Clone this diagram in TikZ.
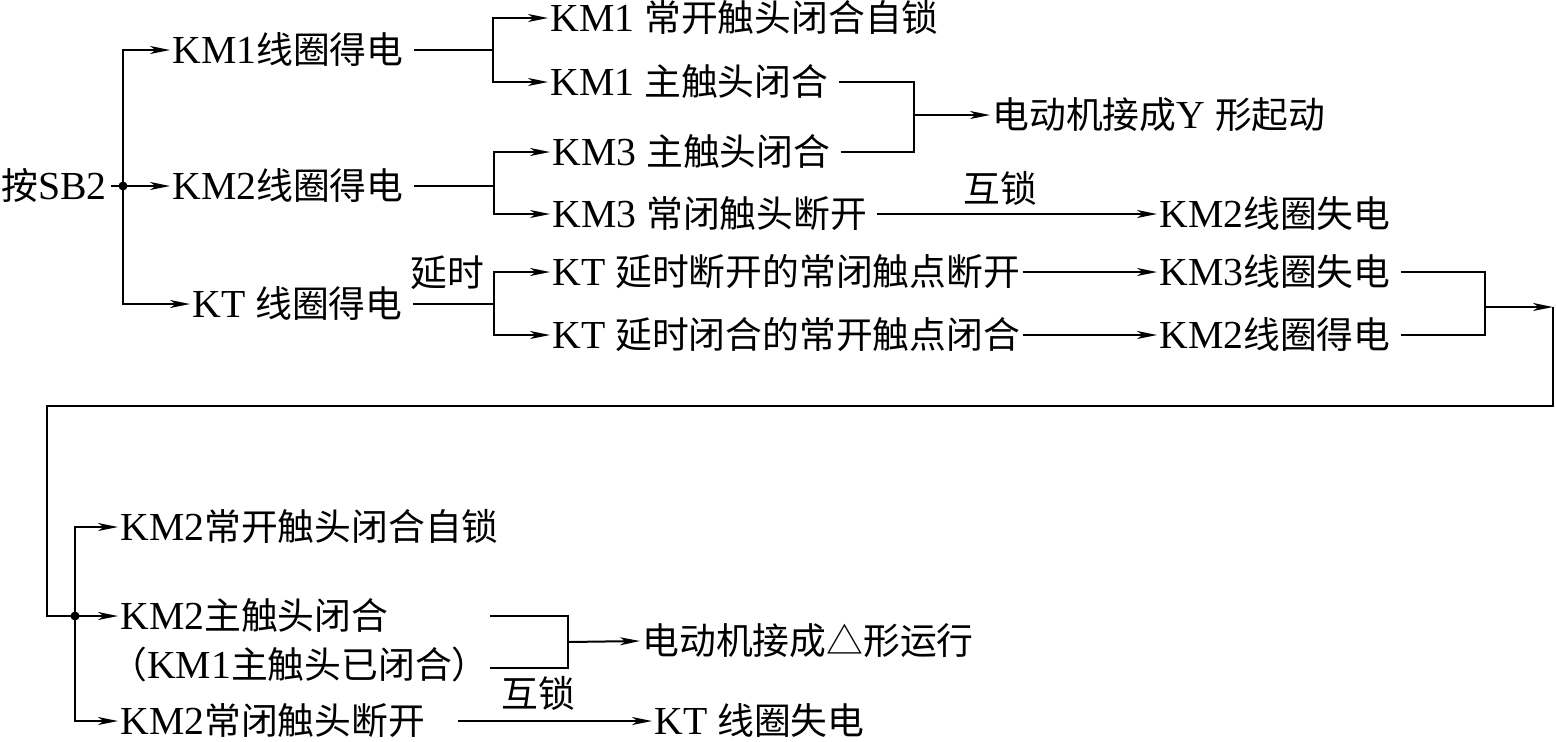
\documentclass[tikz,border=0pt]{standalone}
\usepackage{fontspec}
\setmainfont{Liberation Serif}[Scale=1.08]
\newfontfamily\cjk{Noto Sans CJK SC}
\usetikzlibrary{arrows.meta}
\newcommand\zh[1]{{\cjk #1}}
\begin{document}
\begin{tikzpicture}[x=0.5pt,y=-0.5pt,
 txt/.style={anchor=west,inner xsep=1pt,inner ysep=0pt,font=\fontsize{18.4}{22}\selectfont,text height=15pt,text depth=2pt},
 lbl/.style={inner sep=0pt,font=\fontsize{18.4}{22}\selectfont\cjk},
 ln/.style={line width=1pt},
 arr/.style={ln,-{Stealth[length=10pt,width=4pt,inset=2.8pt]}},
 from/.style={shorten <=4pt},
 jdot/.style={circle,fill,inner sep=0pt,minimum size=4.5pt}]
\useasboundingbox (0,0) rectangle (1556,741);
% nodes
\node[txt] (sb2) at (-1,186) {\zh{按}SB2};
\node[jdot] (dotA) at (123,186) {};
\node[txt] (k1) at (170,50) {KM1\zh{线圈得电}};
\node[txt] (k2) at (170,186) {KM2\zh{线圈得电}};
\node[txt] (kt) at (190,304) {KT \zh{线圈得电}};
\node[txt] (a1) at (548,18) {KM1 \zh{常开触头闭合自锁}};
\node[txt] (a2) at (548,82) {KM1 \zh{主触头闭合}};
\node[txt] (b1) at (550,152) {KM3 \zh{主触头闭合}};
\node[txt] (b2) at (550,214) {KM3 \zh{常闭触头断开}};
\node[txt] (ystart) at (990,115) {\zh{电动机接成}Y \zh{形起动}};
\node[txt] (k2off) at (1157,214) {KM2\zh{线圈失电}};
\node[txt] (c1) at (550,272) {KT \zh{延时断开的常闭触点断开}};
\node[txt] (c2) at (550,335) {KT \zh{延时闭合的常开触点闭合}};
\node[txt] (k3off) at (1157,272) {KM3\zh{线圈失电}};
\node[txt] (k2on) at (1157,335) {KM2\zh{线圈得电}};
\node[jdot] (dotB) at (75,616) {};
\node[txt] (e1) at (118,527) {KM2\zh{常开触头闭合自锁}};
\node[txt] (e2) at (118,616) {KM2\zh{主触头闭合}};
\node[txt] (e3) at (108,665) {\zh{（}KM1\zh{主触头已闭合）}};
\node[txt] (e4) at (118,721) {KM2\zh{常闭触头断开}};
\node[txt] (drun) at (640,641) {\zh{电动机接成△形运行}};
\node[txt] (ktoff) at (652,721) {KT \zh{线圈失电}};
\node[lbl] (hs1) at (1000,188) {互锁};
\node[lbl] (ys) at (447,273) {延时};
\node[lbl] (hs2) at (538,693) {互锁};
% junction coordinates
\coordinate (j1) at (493,50);
\coordinate (j2) at (494,186);
\coordinate (j3) at (494,304);
\coordinate (m1) at (914,115);
\coordinate (m2) at (1485,307);
\coordinate (r1) at (1553,307);
\coordinate (r3) at (47,406);
\coordinate (p1) at (490,616);
\coordinate (p2) at (490,668);
\coordinate (m3) at (568,642);
% connectors
\draw[ln,shorten <=1pt] (sb2.east) -- (dotA.center);
\draw[arr] (dotA.center) |- (k1.west);
\draw[arr] (dotA.center) -- (k2.west);
\draw[arr] (dotA.center) |- (kt.west);
\draw[ln,from] (k1.east) -- (j1);
\draw[arr] (j1) |- (a1.west);
\draw[arr] (j1) |- (a2.west);
\draw[ln,from] (k2.east) -- (j2);
\draw[arr] (j2) |- (b1.west);
\draw[arr] (j2) |- (b2.west);
\draw[ln,from] (a2.east) -| (m1);
\draw[ln,from] (b1.east) -| (m1);
\draw[arr] (m1) -- (ystart.west);
\draw[arr,from] (b2.east) -- (k2off.west);
\draw[ln,from] (kt.east) -- (j3);
\draw[arr] (j3) |- (c1.west);
\draw[arr] (j3) |- (c2.west);
\draw[arr] (c1.east) -- (k3off.west);
\draw[arr] (c2.east) -- (k2on.west);
\draw[ln,from] (k3off.east) -| (m2);
\draw[ln,from] (k2on.east) -| (m2);
\draw[arr] (m2) -- (r1);
\draw[ln] (r1) |- (r3) |- (dotB.center);
\draw[arr] (dotB.center) |- (e1.west);
\draw[arr] (dotB.center) -- (e2.west);
\draw[arr] (dotB.center) |- (e4.west);
\draw[ln] (p1) -| (m3);
\draw[ln] (p2) -| (m3);
\draw[arr] (m3) -- (drun.west);
\draw[arr,shorten <=15pt] (e4.east) -- (ktoff.west);
\end{tikzpicture}
\end{document}
